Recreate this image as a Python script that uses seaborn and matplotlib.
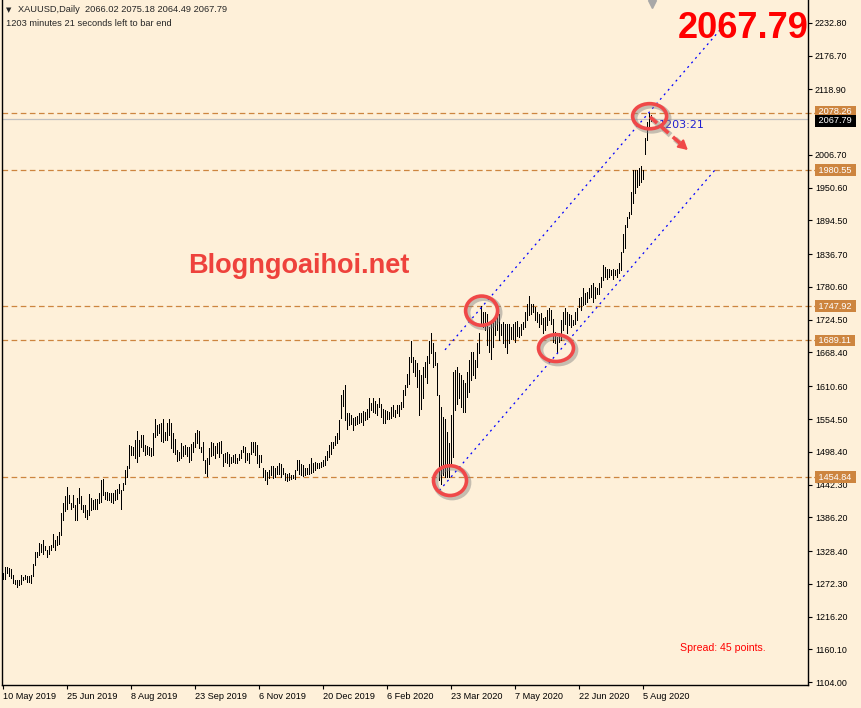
import numpy as np
import pandas as pd
import matplotlib
matplotlib.use("Agg")
import matplotlib.pyplot as plt
import matplotlib.patheffects as pe
import matplotlib.transforms as mtransforms
from matplotlib.patches import Ellipse
import seaborn as sns

# daily bars, XAUUSD 10 May 2019 .. 7 Aug 2020 (high / low)
highs = [
    1290, 1301, 1301, 1300, 1297, 1287, 1279, 1279, 1279, 1287, 1284, 1287, 1285, 1285, 1288, 1306,
    1327, 1327, 1343, 1340, 1347, 1337, 1330, 1337, 1338, 1357, 1348, 1354, 1361, 1394, 1411, 1422,
    1438, 1424, 1411, 1424, 1407, 1420, 1436, 1422, 1407, 1407, 1398, 1426, 1420, 1416, 1418, 1417,
    1427, 1450, 1452, 1430, 1430, 1428, 1427, 1427, 1433, 1434, 1443, 1433, 1445, 1468, 1474, 1510,
    1508, 1507, 1518, 1534, 1519, 1527, 1527, 1510, 1508, 1506, 1504, 1531, 1554, 1544, 1546, 1548,
    1554, 1533, 1548, 1555, 1547, 1530, 1521, 1501, 1498, 1513, 1508, 1510, 1507, 1507, 1511, 1515,
    1531, 1535, 1534, 1507, 1515, 1484, 1487, 1504, 1515, 1513, 1508, 1513, 1515, 1517, 1495, 1497,
    1498, 1495, 1490, 1493, 1495, 1487, 1495, 1502, 1508, 1507, 1497, 1497,
    1515, 1515, 1515, 1510, 1493, 1493, 1471, 1468, 1464, 1468, 1474, 1474, 1471, 1474, 1479, 1477,
    1471, 1462, 1461, 1462, 1458, 1458, 1467, 1484, 1484, 1478, 1475, 1471, 1471, 1478, 1487, 1479,
    1481, 1479, 1479, 1481, 1485, 1491, 1500, 1510, 1515, 1515, 1525, 1531, 1553, 1595, 1605, 1612,
    1564, 1564, 1561, 1557, 1558, 1559, 1564, 1565, 1569, 1567, 1571, 1590, 1582, 1590, 1586, 1580,
    1590, 1580, 1571, 1570, 1569, 1567, 1575, 1578, 1570, 1578, 1578, 1584, 1604, 1612,
    1631, 1660, 1688, 1660, 1656, 1651, 1639, 1630, 1644, 1652, 1662, 1688, 1702, 1684, 1670, 1650,
    1595, 1575, 1558, 1555, 1533, 1513, 1561, 1635, 1639, 1644, 1634, 1630, 1621, 1616, 1635, 1655,
    1670, 1670, 1655, 1684, 1701,
    1748, 1738, 1738, 1735, 1712, 1724, 1721, 1729, 1731, 1735, 1718, 1721, 1718, 1718, 1718, 1712,
    1718, 1721, 1723, 1712, 1718, 1721, 1738, 1751, 1765, 1752, 1751, 1747, 1738, 1735, 1736, 1727,
    1729, 1741, 1744, 1741, 1725, 1704, 1695, 1701,
    1724, 1738, 1744, 1738, 1735, 1732, 1724, 1738, 1744, 1761, 1764, 1778, 1771, 1772, 1778, 1784,
    1788, 1781, 1778, 1787, 1798, 1818, 1815, 1812, 1812, 1809, 1812, 1809, 1812, 1821, 1841, 1871,
    1886, 1901, 1909, 1944, 1981, 1981, 1981, 1985, 1988, 1981, 2035, 2063, 2078, 2075.18,
]
lows = [
    1280, 1280, 1290, 1285, 1283, 1273, 1272, 1267, 1270, 1272, 1279, 1280, 1276, 1276, 1273, 1285,
    1304, 1318, 1321, 1327, 1324, 1330, 1318, 1324, 1330, 1336, 1331, 1338, 1341, 1356, 1382, 1397,
    1401, 1410, 1401, 1404, 1381, 1382, 1410, 1401, 1396, 1387, 1384, 1390, 1398, 1401, 1400, 1401,
    1410, 1413, 1424, 1418, 1416, 1416, 1413, 1411, 1416, 1418, 1427, 1400, 1433, 1443, 1455, 1471,
    1493, 1493, 1487, 1481, 1491, 1507, 1500, 1493, 1494, 1493, 1491, 1493, 1524, 1527, 1530, 1517,
    1515, 1518, 1518, 1527, 1504, 1498, 1495, 1483, 1484, 1487, 1491, 1495, 1491, 1481, 1485, 1498,
    1507, 1513, 1504, 1498, 1484, 1462, 1457, 1478, 1491, 1493, 1487, 1497, 1490, 1497, 1474, 1481,
    1479, 1474, 1479, 1481, 1479, 1479, 1484, 1487, 1498, 1481, 1484, 1479,
    1494, 1498, 1493, 1479, 1473, 1481, 1455, 1450, 1444, 1453, 1458, 1454, 1455, 1461, 1461, 1455,
    1461, 1450, 1449, 1450, 1451, 1453, 1451, 1468, 1461, 1458, 1457, 1458, 1461, 1460, 1462, 1464,
    1468, 1470, 1470, 1473, 1474, 1475, 1484, 1490, 1495, 1504, 1510, 1513, 1521, 1557, 1577, 1553,
    1538, 1544, 1546, 1535, 1544, 1546, 1547, 1550, 1544, 1553, 1554, 1558, 1570, 1567, 1564, 1561,
    1575, 1558, 1548, 1547, 1555, 1554, 1557, 1559, 1558, 1565, 1559, 1571, 1575, 1595,
    1610, 1615, 1652, 1635, 1628, 1610, 1561, 1572, 1590, 1627, 1616, 1650, 1667, 1644, 1647, 1595,
    1450, 1444, 1458, 1455, 1455, 1455, 1478, 1490, 1570, 1581, 1590, 1575, 1567, 1567, 1592, 1601,
    1621, 1630, 1624, 1644, 1667,
    1715, 1712, 1707, 1681, 1670, 1658, 1678, 1698, 1707, 1689, 1698, 1684, 1678, 1668, 1684, 1692,
    1692, 1687, 1696, 1695, 1698, 1709, 1712, 1724, 1732, 1735, 1738, 1724, 1721, 1712, 1718, 1701,
    1707, 1715, 1724, 1718, 1687, 1684, 1670, 1687,
    1690, 1707, 1718, 1701, 1715, 1712, 1715, 1718, 1724, 1747, 1741, 1749, 1752, 1755, 1761, 1764,
    1755, 1761, 1769, 1769, 1781, 1792, 1798, 1795, 1798, 1801, 1795, 1801, 1798, 1804, 1809, 1841,
    1847, 1884, 1898, 1906, 1924, 1941, 1952, 1955, 1961, 1966, 2009, 2033, 2052, 2064.49,
]

date_ticks = [0, 32, 64, 96, 128, 160, 192, 224, 256, 288, 320]
date_labels = ["10 May 2019", "25 Jun 2019", "8 Aug 2019", "23 Sep 2019", "6 Nov 2019",
               "20 Dec 2019", "6 Feb 2020", "23 Mar 2020", "7 May 2020", "22 Jun 2020", "5 Aug 2020"]
price_ticks = [2232.80, 2176.70, 2118.90, 2006.70, 1950.60, 1894.50, 1836.70, 1780.60, 1724.50,
               1668.40, 1610.60, 1554.50, 1498.40, 1442.30, 1386.20, 1328.40, 1272.30, 1216.20,
               1160.10, 1104.00]
levels = [2078.26, 1980.55, 1747.92, 1689.11, 1454.84]
last_price = 2067.79
ohlc = (2066.02, 2075.18, 2064.49, 2067.79)

# channel lines (bar index, price)
upper_x, upper_y = [221, 358.5], [1672.9, 2220.8]
lower_x, lower_y = [218.2, 356], [1432, 1981]

# marked swing points
circ_x = [223.5, 239.3, 276.5, 323.3]
circ_y = [1449, 1740, 1676, 2073]
circ_w = [16.5, 16, 17.5, 17]
circ_h = [51, 50, 46, 43]

arrow_x, arrow_y = [323.5, 343.5], [2071.8, 2011.9]

bg = "#FEF0D9"
lvl_col = "#CD853F"
red = "#F04848"

sns.set_style("ticks", {"axes.facecolor": bg, "figure.facecolor": bg})
plt.rcParams["font.family"] = ["Liberation Sans", "DejaVu Sans"]

fig = plt.figure(figsize=(8.61, 7.08), dpi=100)
ax = fig.add_axes([2 / 861, 1 - 685 / 708, 806 / 861, 685 / 708])

n = len(highs)
bars = pd.DataFrame({
    "bar": np.repeat(np.arange(n), 2),
    "bar_id": np.repeat(np.arange(n), 2),
    "price": np.column_stack([lows, highs]).ravel(),
})
sns.lineplot(data=bars, x="bar", y="price", units="bar_id", estimator=None, sort=False,
             color="black", linewidth=0.72, antialiased=False, legend=False, ax=ax)

for p in levels:
    ax.axhline(p, color=lvl_col, lw=0.9, ls=(0, (4.5, 2.8)), zorder=1)
ax.axhline(last_price, color="#C0C0C0", lw=0.9, zorder=1)

ax.plot(upper_x, upper_y, color="blue", lw=0.9, ls=(0, (1.6, 3.2)))
ax.plot(lower_x, lower_y, color="blue", lw=0.9, ls=(0, (1.6, 3.2)))

shadow = [pe.SimpleLineShadow(offset=(1.5, -1.5), shadow_color="#808080", alpha=0.45, linewidth=4), pe.Normal()]
for x, y, w, h in zip(circ_x, circ_y, circ_w, circ_h):
    ax.add_patch(Ellipse((x, y), w, h, fill=False, ec=red, lw=2.6, zorder=5, path_effects=shadow))

ax.plot([arrow_x[0], arrow_x[1] - 3], [arrow_y[0], arrow_y[1] + 9], color=red, lw=2.6,
        ls=(0, (2.6, 1.6)), zorder=5, path_effects=shadow)
ax.annotate("", xy=(arrow_x[1], arrow_y[1]), xytext=(arrow_x[1] - 3.5, arrow_y[1] + 10.5),
            arrowprops=dict(arrowstyle="-|>,head_length=0.55,head_width=0.3", color=red, lw=1.5),
            zorder=5)

ax.text(328, 2058, "1203:21", color="#2020D0", fontsize=8, family="DejaVu Sans",
        ha="left", va="center")
ax.plot([324.5], [2265], marker="v", color="#A8A8A8", ms=6, clip_on=False)

ax.set_xlim(-0.5, 402.5)
ax.set_ylim(1099, 2272)
ax.set_xlabel("")
ax.set_ylabel("")

ax.yaxis.tick_right()
ax.set_yticks(price_ticks)
ax.set_yticklabels([f"{v:.2f}" for v in price_ticks])
ax.set_xticks(date_ticks)
ax.set_xticklabels(date_labels)
for lab in ax.get_xticklabels():
    lab.set_ha("left")
ax.tick_params(axis="y", direction="out", length=3, width=0.8, pad=2, labelsize=6.4, colors="black")
ax.tick_params(axis="x", direction="out", length=3, width=0.8, pad=2, labelsize=6.6, colors="black")
for side in ["left", "bottom", "right"]:
    ax.spines[side].set_visible(True)
    ax.spines[side].set_color("black")
    ax.spines[side].set_linewidth(1.0)
ax.spines["top"].set_visible(False)

# price labels of the horizontal levels on the right scale
trans = mtransforms.blended_transform_factory(ax.transAxes, ax.transData)
for p in levels:
    ax.plot([1.0, 1.009], [p, p], transform=trans, color=lvl_col, lw=0.9,
            ls=(0, (2.5, 2)), clip_on=False)
    ax.text(1.0105, p + (2.5 if p == levels[0] else 0), f" {p:.2f} ", transform=trans,
            ha="left", va="center", color="white", fontsize=6.6, clip_on=False,
            bbox=dict(boxstyle="square,pad=0.15", fc=lvl_col, ec="none"))
ax.text(1.0105, last_price - 2.5, f" {last_price:.2f} ", transform=trans, ha="left", va="center",
        color="white", fontsize=6.6, clip_on=False,
        bbox=dict(boxstyle="square,pad=0.15", fc="black", ec="none"))

fig.text(6 / 861, 1 - 10 / 708, "\u25bc", fontsize=5, family="DejaVu Sans", va="center")
fig.text(18 / 861, 1 - 10 / 708,
         "XAUUSD,Daily  " + " ".join(f"{v:.2f}" for v in ohlc), fontsize=6.7, va="center")
fig.text(6 / 861, 1 - 24 / 708, "1203 minutes 21 seconds left to bar end", fontsize=6.7, va="center")
fig.text(678 / 861, 1 - 38 / 708, f"{last_price:.2f}", fontsize=26, fontweight="bold",
         color="red", va="baseline")
fig.text(188 / 861, 1 - 273 / 708, "Blogngoaihoi.net", fontsize=19.5, fontweight="bold",
         color="#EE423C", va="baseline")
fig.text(680 / 861, 1 - 648 / 708, "Spread: 45 points.", fontsize=7.6, color="red", va="center")

fig.savefig("out.png", dpi=100, facecolor=bg)
